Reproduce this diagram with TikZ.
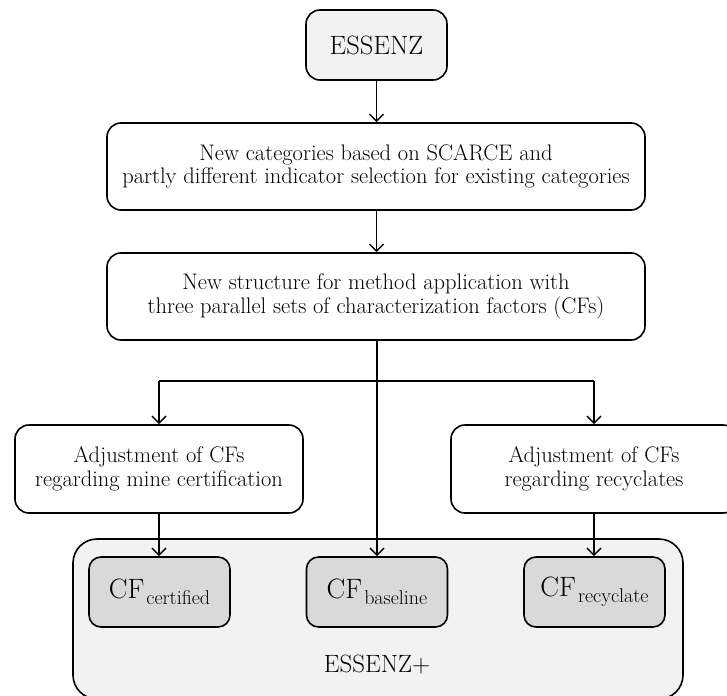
\documentclass[tikz,border=0pt]{standalone}
\usetikzlibrary{arrows.meta}
\definecolor{lightfill}{HTML}{F2F2F2}
\definecolor{cffill}{HTML}{D9D9D9}
\tikzset{
  stepbox/.style={draw, line width=1.6pt, rounded corners=14pt, align=center, inner sep=0pt,
    font=\fontsize{22.5}{23.5}\selectfont},
  cfbox/.style={draw, line width=1.6pt, rounded corners=12pt, fill=cffill, inner sep=0pt,
    minimum width=141pt, minimum height=70pt},
  conn/.style={line width=1.5pt, -{Straight Barb[length=7pt,width=14pt,line width=1.5pt]}},
  plain/.style={line width=1.5pt},
}
\newcommand{\cftext}[1]{{\fontsize{28}{28}\selectfont CF}\hspace{2pt}\raisebox{-6pt}{\fontsize{20}{20}\selectfont #1}}
\begin{document}
\begin{tikzpicture}[x=1pt,y=-1pt]
\useasboundingbox (0,0) rectangle (727,695);
% container
\node[draw, line width=1.6pt, rounded corners=24pt, fill=lightfill, inner sep=0pt,
  minimum width=610pt, minimum height=160pt] (plus) at (378,619) {};
\node[font=\fontsize{25}{25}\selectfont] (plustext) at (377,665) {ESSENZ+};
% top
\node[stepbox, fill=lightfill, minimum width=141pt, minimum height=70pt,
  font=\fontsize{26.5}{26.5}\selectfont] (essenz) at (376.5,45) {ESSENZ};
\node[stepbox, minimum width=538pt, minimum height=87pt] (cat) at (376,166.5)
  {New categories based on SCARCE and\\partly different indicator selection for existing categories};
\node[stepbox, minimum width=538pt, minimum height=87pt] (struct) at (376,296.5)
  {New structure for method application with\\three parallel sets of characterization factors (CFs)};
\node[stepbox, minimum width=288pt, minimum height=88pt] (mine) at (159,469)
  {Adjustment of CFs\\regarding mine certification};
\node[stepbox, minimum width=286pt, minimum height=88pt] (recy) at (594,469)
  {Adjustment of CFs\\regarding recyclates};
\node[cfbox] (cfc) at (159.5,592) {\cftext{certified}};
\node[cfbox] (cfb) at (377,592) {\cftext{baseline}};
\node[cfbox] (cfr) at (594.5,592) {\cftext{recyclate}};
% connectors
\coordinate (hl) at (159,381);
\coordinate (hr) at (594,381);
\draw[conn] (essenz.south) -- (essenz.south |- cat.north);
\draw[conn] (cat.south -| essenz.south) -- (essenz.south |- struct.north);
\draw[conn] (struct.south -| cfb.north) -- (cfb.north);
\draw[plain] (hl) -- (hr);
\draw[conn] (hl) -- (mine.north);
\draw[conn] (hr) -- (recy.north);
\draw[conn] (mine.south) -- (mine.south |- cfc.north);
\draw[conn] (recy.south) -- (recy.south |- cfr.north);
\end{tikzpicture}
\end{document}
